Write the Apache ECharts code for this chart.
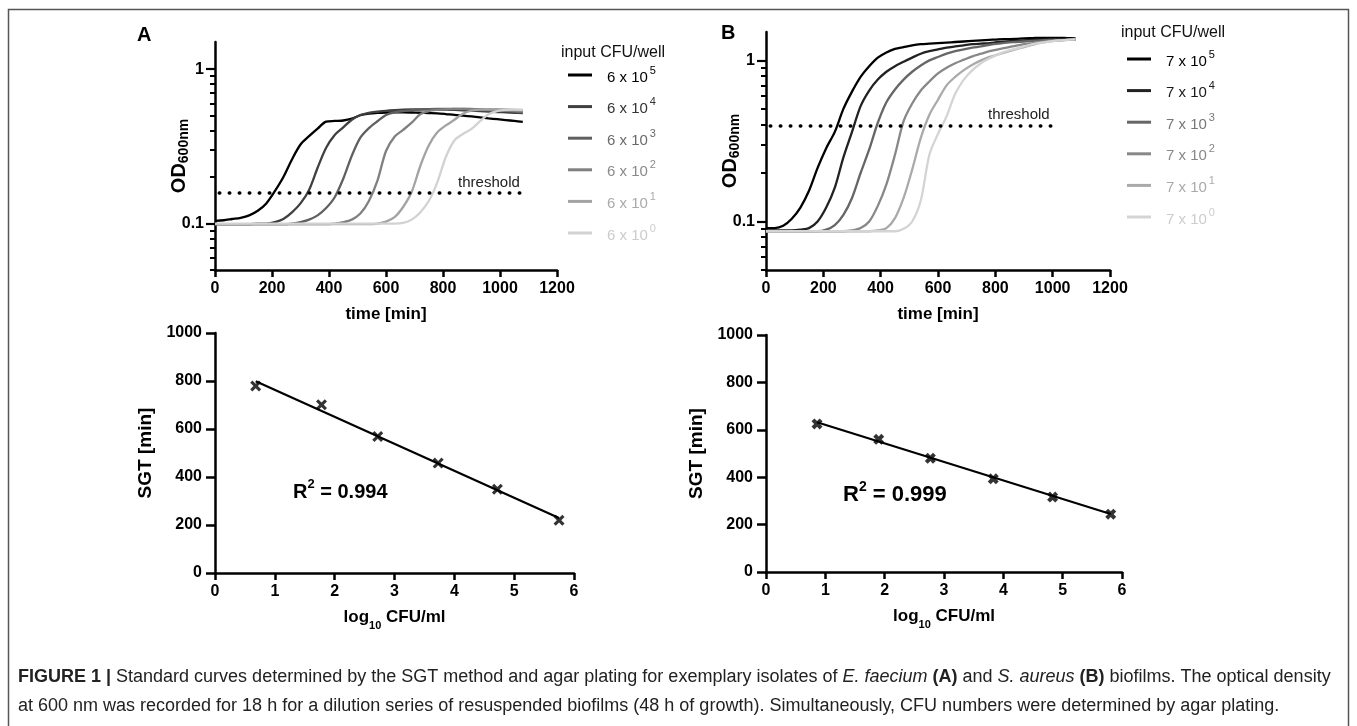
<!DOCTYPE html>
<html>
<head>
<meta charset="utf-8">
<title>Figure 1</title>
<script src="https://cdn.jsdelivr.net/npm/echarts@6/dist/echarts.min.js"></script>
<style>
html, body { margin: 0; padding: 0; background: #fff; }
#figure_content { width: 1357px; height: 726px; }
</style>
</head>
<body>
<div id="figure_content"></div>
<script>
// sampling of the growth curves (min)
var time_min = [0,30,60,90,120,150,180,210,240,270,300,330,360,390,420,450,480,510,540,570,600,630,660,690,720,750,780,810,840,870,900,930,960,990,1020,1050,1080];

// panel A - E. faecium, OD600
var od_a_1e5 = [0.104,0.105,0.107,0.109,0.113,0.121,0.135,0.162,0.2,0.26,0.325,0.368,0.412,0.457,0.462,0.465,0.478,0.503,0.515,0.521,0.524,0.525,0.525,0.524,0.522,0.52,0.518,0.512,0.505,0.5,0.494,0.487,0.48,0.474,0.468,0.462,0.456];
var od_a_1e4 = [0.099,0.099,0.099,0.099,0.099,0.1,0.1,0.102,0.107,0.118,0.135,0.165,0.23,0.31,0.375,0.42,0.47,0.505,0.522,0.53,0.537,0.542,0.546,0.548,0.549,0.55,0.549,0.547,0.545,0.542,0.538,0.535,0.532,0.528,0.525,0.522,0.52];
var od_a_1e3 = [0.099,0.099,0.099,0.099,0.099,0.099,0.099,0.099,0.099,0.1,0.102,0.106,0.113,0.126,0.148,0.195,0.275,0.36,0.415,0.46,0.505,0.525,0.535,0.542,0.548,0.551,0.552,0.552,0.552,0.55,0.548,0.545,0.542,0.54,0.537,0.534,0.532];
var od_a_1e2 = [0.099,0.099,0.099,0.099,0.099,0.099,0.099,0.099,0.099,0.099,0.099,0.099,0.099,0.099,0.1,0.102,0.106,0.116,0.14,0.19,0.295,0.365,0.404,0.45,0.51,0.535,0.545,0.55,0.553,0.554,0.553,0.55,0.546,0.542,0.538,0.535,0.532];
var od_a_1e1 = [0.099,0.099,0.099,0.099,0.099,0.099,0.099,0.099,0.099,0.099,0.099,0.099,0.099,0.099,0.099,0.099,0.099,0.099,0.099,0.1,0.103,0.11,0.128,0.16,0.235,0.32,0.39,0.432,0.47,0.515,0.538,0.547,0.55,0.55,0.548,0.545,0.542];
var od_a_1e0 = [0.1,0.1,0.1,0.1,0.1,0.1,0.1,0.1,0.1,0.1,0.1,0.1,0.1,0.1,0.1,0.1,0.1,0.1,0.1,0.1,0.1,0.1,0.101,0.106,0.118,0.14,0.185,0.27,0.345,0.38,0.41,0.46,0.51,0.535,0.545,0.548,0.546];

// panel B - S. aureus, OD600
var od_b_1e5 = [0.091,0.091,0.094,0.104,0.122,0.155,0.215,0.285,0.36,0.5,0.64,0.79,0.92,1.04,1.12,1.18,1.21,1.24,1.26,1.27,1.28,1.29,1.3,1.31,1.32,1.33,1.34,1.35,1.355,1.36,1.37,1.375,1.38,1.38,1.38,1.375,1.37];
var od_b_1e4 = [0.088,0.088,0.088,0.088,0.089,0.091,0.1,0.122,0.162,0.25,0.36,0.52,0.65,0.76,0.85,0.92,0.98,1.04,1.1,1.14,1.17,1.2,1.22,1.24,1.26,1.27,1.28,1.3,1.31,1.32,1.33,1.34,1.345,1.35,1.35,1.35,1.35];
var od_b_1e3 = [0.087,0.087,0.087,0.087,0.087,0.087,0.087,0.089,0.095,0.11,0.14,0.2,0.28,0.41,0.55,0.66,0.76,0.85,0.93,1.0,1.05,1.1,1.14,1.17,1.2,1.22,1.25,1.27,1.29,1.3,1.31,1.32,1.33,1.34,1.34,1.34,1.34];
var od_b_1e2 = [0.087,0.087,0.087,0.087,0.087,0.087,0.087,0.087,0.087,0.087,0.088,0.091,0.1,0.125,0.17,0.26,0.42,0.54,0.65,0.74,0.83,0.9,0.96,1.01,1.06,1.1,1.14,1.17,1.2,1.23,1.26,1.28,1.3,1.32,1.33,1.34,1.35];
var od_b_1e1 = [0.087,0.087,0.087,0.087,0.087,0.087,0.087,0.087,0.087,0.087,0.087,0.087,0.087,0.088,0.091,0.105,0.14,0.21,0.33,0.46,0.57,0.7,0.79,0.87,0.94,1.0,1.05,1.09,1.13,1.17,1.21,1.25,1.29,1.31,1.33,1.34,1.35];
var od_b_1e0 = [0.087,0.087,0.087,0.087,0.087,0.087,0.087,0.087,0.087,0.087,0.087,0.087,0.087,0.087,0.087,0.087,0.09,0.1,0.135,0.26,0.35,0.45,0.62,0.76,0.87,0.96,1.03,1.09,1.14,1.18,1.22,1.26,1.29,1.31,1.33,1.34,1.35];

var names_a = ['6 x 10^5','6 x 10^4','6 x 10^3','6 x 10^2','6 x 10^1','6 x 10^0'];
var names_b = ['7 x 10^5','7 x 10^4','7 x 10^3','7 x 10^2','7 x 10^1','7 x 10^0'];
var threshold_a = 0.158;
var threshold_b = 0.394;

// standard curves: log10 CFU/ml vs SGT
var log_cfu_a = [0.68,1.78,2.72,3.73,4.72,5.75];
var sgt_a = [779,701,569,458,349,220];
var fit_a = [[0.68,799],[5.75,229]];
var log_cfu_b = [0.86,1.90,2.77,3.83,4.83,5.81];
var sgt_b = [625,560,480,393,316,244];
var fit_b = [[0.86,632],[5.81,245]];

// tick labels
var od_major_ticks = [0.1, 1];
var od_minor_ticks = [0.05,0.06,0.07,0.08,0.09,0.2,0.3,0.4,0.5,0.6,0.7,0.8,0.9];

var line_colors_a = ['#000000','#404040','#606060','#808080','#a3a3a3','#d2d2d2'];
var text_colors_a = ['#000000','#333333','#6a6a6a','#8a8a8a','#aaaaaa','#cccccc'];
var line_colors_b = ['#000000','#222222','#666666','#888888','#aaaaaa','#d4d4d4'];
var text_colors_b = ['#000000','#1a1a1a','#777777','#888888','#aaaaaa','#cccccc'];

var font_family = '"Liberation Sans", Arial, Helvetica, sans-serif';

function build_points(xs, ys){
	var arr = [];
	for(var i = 0; i < xs.length; i++){
		arr.push([xs[i], ys[i]]);
	}
	return arr;
}

function sup_formatter(name){
	var parts = name.split('^');
	return '{t|' + parts[0] + '}{sup|' + parts[1] + '}';
}

function legend_items(names, colors){
	var items = [];
	for(var i = 0; i < names.length; i++){
		items.push({
			name: names[i],
			textStyle: {
				color: colors[i],
				rich: {
					t: { color: colors[i], fontSize: 15, fontFamily: font_family, lineHeight: 20, verticalAlign: 'bottom' },
					sup: { color: colors[i], fontSize: 11, fontFamily: font_family, lineHeight: 20, verticalAlign: 'top', padding: [0, 0, 0, 2] }
				}
			}
		});
	}
	return items;
}

// shared axis look
var axis_line = { show: true, onZero: false, lineStyle: { color: '#000', width: 2.5 } };
var label_style = { color: '#000', fontSize: 16, fontWeight: 'bold', fontFamily: font_family };

function plain_number(v){
	return String(v);
}

function value_x_axis(grid_index, max, interval, name_rich, name_text){
	return {
		type: 'value', gridIndex: grid_index, min: 0, max: max, interval: interval,
		axisLine: axis_line,
		axisTick: { show: true, length: 7, lineStyle: { color: '#000', width: 2.5 } },
		axisLabel: Object.assign({ margin: 11, formatter: plain_number }, label_style),
		splitLine: { show: false },
		name: name_text, nameLocation: 'middle', nameGap: 36, nameMoveOverlap: false,
		nameTextStyle: { color: '#000', fontSize: 17, fontWeight: 'bold', fontFamily: font_family, rich: name_rich }
	};
}

function od_axis(grid_index){
	return {
		type: 'log', logBase: 10, gridIndex: grid_index, min: 0.05, max: 1.5, position: 'left',
		axisLine: axis_line,
		axisTick: { show: true, length: 9, customValues: od_major_ticks, lineStyle: { color: '#000', width: 2.2 } },
		axisLabel: Object.assign({ margin: 11, customValues: od_major_ticks, formatter: function(v){ return v >= 1 ? '1' : '0.1'; } }, label_style),
		splitLine: { show: false },
		name: '{a|OD}{s|600nm}', nameLocation: 'middle', nameGap: 24, nameRotate: 90, nameMoveOverlap: false,
		nameTextStyle: {
			rich: {
				a: { fontSize: 20, fontWeight: 'bold', color: '#000', fontFamily: font_family, lineHeight: 22, verticalAlign: 'top' },
				s: { fontSize: 14, fontWeight: 'bold', color: '#000', fontFamily: font_family, lineHeight: 22, verticalAlign: 'bottom' }
			}
		}
	};
}

function od_minor_axis(grid_index){
	return {
		type: 'log', logBase: 10, gridIndex: grid_index, min: 0.05, max: 1.5, position: 'left',
		axisLine: { show: false },
		axisTick: { show: true, length: 5, customValues: od_minor_ticks, lineStyle: { color: '#000', width: 2 } },
		axisLabel: { show: false },
		splitLine: { show: false }
	};
}

function sgt_axis(grid_index){
	return {
		type: 'value', gridIndex: grid_index, min: 0, max: 1000, interval: 200,
		axisLine: axis_line,
		axisTick: { show: true, length: 9, lineStyle: { color: '#000', width: 2.5 } },
		axisLabel: Object.assign({ margin: 13, formatter: plain_number }, label_style),
		splitLine: { show: false },
		name: 'SGT [min]', nameLocation: 'middle', nameGap: 60, nameRotate: 90, nameMoveOverlap: false,
		nameTextStyle: { color: '#000', fontSize: 19, fontWeight: 'bold', fontFamily: font_family }
	};
}

function growth_series(all_values, names, colors, x_index, y_index, threshold, line_end){
	var list = [];
	for(var i = 0; i < all_values.length; i++){
		var s = {
			name: names[i], type: 'line', xAxisIndex: x_index, yAxisIndex: y_index,
			data: build_points(time_min, all_values[i]),
			showSymbol: false, symbol: 'none', smooth: 0.3,
			lineStyle: { color: colors[i], width: 2.3 },
			itemStyle: { color: colors[i] },
			emphasis: { disabled: true }
		};
		if(i === 0){
			s.markLine = {
				silent: true, symbol: 'none',
				lineStyle: { color: '#000', width: 3.5, type: [0.5, 9.5], cap: 'round' },
				label: { show: true, formatter: 'threshold', position: 'insideEndTop', distance: 3,
					color: '#222', fontSize: 15, fontFamily: font_family },
				data: [[{ coord: [15, threshold] }, { coord: [line_end, threshold] }]]
			};
		}
		list.push(s);
	}
	return list;
}

function standard_series(xs, ys, fit, x_index, y_index, name, marker){
	return [
		{
			name: name + ' fit', type: 'line', xAxisIndex: x_index, yAxisIndex: y_index,
			data: fit, symbol: 'none', lineStyle: { color: '#000', width: 2.2 }, emphasis: { disabled: true }
		},
		{
			name: name, type: 'scatter', xAxisIndex: x_index, yAxisIndex: y_index,
			data: build_points(xs, ys),
			symbol: marker, symbolSize: 11, itemStyle: { color: '#000' }, emphasis: { disabled: true }
		}
	];
}

var cross_thin = 'path://M2,0 L5,3 L8,0 L10,2 L7,5 L10,8 L8,10 L5,7 L2,10 L0,8 L3,5 L0,2 Z';
var cross_bold = 'path://M0,2.6 L2.6,0 L5,2.4 L7.4,0 L10,2.6 L7.6,5 L10,7.4 L7.4,10 L5,7.6 L2.6,10 L0,7.4 L2.4,5 Z';

var log_name_rich = {
	a: { fontSize: 17, fontWeight: 'bold', color: '#000', fontFamily: font_family, lineHeight: 22, verticalAlign: 'top' },
	s: { fontSize: 11, fontWeight: 'bold', color: '#000', fontFamily: font_family, lineHeight: 22, verticalAlign: 'bottom' }
};

var chart = echarts.init(document.getElementById('figure_content'), null, { renderer: 'canvas' });

var series_list = []
	.concat(growth_series([od_a_1e5, od_a_1e4, od_a_1e3, od_a_1e2, od_a_1e1, od_a_1e0], names_a, line_colors_a, 0, 0, threshold_a, 1080))
	.concat(growth_series([od_b_1e5, od_b_1e4, od_b_1e3, od_b_1e2, od_b_1e1, od_b_1e0], names_b, line_colors_b, 1, 2, threshold_b, 1000))
	.concat(standard_series(log_cfu_a, sgt_a, fit_a, 2, 4, 'SGT A', cross_thin))
	.concat(standard_series(log_cfu_b, sgt_b, fit_b, 3, 5, 'SGT B', cross_bold));

var legend_common = {
	orient: 'vertical', icon: 'rect', itemWidth: 24, itemHeight: 3, itemGap: 11.6,
	selectedMode: false, padding: 0, formatter: sup_formatter,
	textStyle: { fontSize: 15, fontFamily: font_family, padding: [0, 0, 0, 10] }
};

var caption_font = 18;

var option = {
	backgroundColor: '#fff',
	animation: false,
	grid: [
		{ left: 215, top: 42, width: 342, height: 228 },
		{ left: 766, top: 32, width: 344, height: 238 },
		{ left: 215, top: 333, width: 359, height: 240 },
		{ left: 766, top: 335, width: 356, height: 237 }
	],
	xAxis: [
		value_x_axis(0, 1200, 200, null, 'time [min]'),
		value_x_axis(1, 1200, 200, null, 'time [min]'),
		value_x_axis(2, 6, 1, log_name_rich, '{a|log}{s|10}{a| CFU/ml}'),
		value_x_axis(3, 6, 1, log_name_rich, '{a|log}{s|10}{a| CFU/ml}')
	],
	yAxis: [
		od_axis(0), od_minor_axis(0),
		od_axis(1), od_minor_axis(1),
		sgt_axis(2), sgt_axis(3)
	],
	legend: [
		Object.assign({}, legend_common, { left: 568, top: 65, data: legend_items(names_a, text_colors_a) }),
		Object.assign({}, legend_common, { left: 1127, top: 49, data: legend_items(names_b, text_colors_b) })
	],
	series: series_list,
	graphic: [
		{ type: 'rect', silent: true, shape: { x: 8.5, y: 9.5, width: 1340, height: 760 },
			style: { fill: 'none', stroke: '#555', lineWidth: 1.5 } },
		{ type: 'text', x: 137, y: 35, style: { text: 'A', font: 'bold 20px ' + font_family, fill: '#000', verticalAlign: 'middle' } },
		{ type: 'text', x: 721, y: 33, style: { text: 'B', font: 'bold 20px ' + font_family, fill: '#000', verticalAlign: 'middle' } },
		{ type: 'text', x: 561, y: 53, style: { text: 'input CFU/well', font: '16px ' + font_family, fill: '#111', verticalAlign: 'middle' } },
		{ type: 'text', x: 1121, y: 33, style: { text: 'input CFU/well', font: '16px ' + font_family, fill: '#111', verticalAlign: 'middle' } },
		{ type: 'text', x: 293, y: 490, style: {
			text: '{a|R}{s|2}{a| = 0.994}', verticalAlign: 'middle',
			rich: {
				a: { font: 'bold 20px ' + font_family, fill: '#000', lineHeight: 24, verticalAlign: 'bottom' },
				s: { font: 'bold 13px ' + font_family, fill: '#000', lineHeight: 24, verticalAlign: 'top' }
			}
		} },
		{ type: 'text', x: 843, y: 493, style: {
			text: '{a|R}{s|2}{a| = 0.999}', verticalAlign: 'middle',
			rich: {
				a: { font: 'bold 22px ' + font_family, fill: '#000', lineHeight: 26, verticalAlign: 'bottom' },
				s: { font: 'bold 14px ' + font_family, fill: '#000', lineHeight: 26, verticalAlign: 'top' }
			}
		} },
		{ type: 'text', x: 18, y: 677, style: {
			text: '{b|FIGURE 1 |} Standard curves determined by the SGT method and agar plating for exemplary isolates of {i|E. faecium} {b|(A)} and {i|S. aureus} {b|(B)} biofilms. The optical density',
			font: caption_font + 'px ' + font_family, fill: '#222', verticalAlign: 'middle',
			rich: {
				b: { font: 'bold ' + caption_font + 'px ' + font_family, fill: '#222' },
				i: { font: 'italic ' + caption_font + 'px ' + font_family, fill: '#222' }
			}
		} },
		{ type: 'text', x: 18, y: 706, style: {
			text: 'at 600 nm was recorded for 18 h for a dilution series of resuspended biofilms (48 h of growth). Simultaneously, CFU numbers were determined by agar plating.',
			font: caption_font + 'px ' + font_family, fill: '#222', verticalAlign: 'middle'
		} }
	]
};

chart.setOption(option, true);
</script>
</body>
</html>
